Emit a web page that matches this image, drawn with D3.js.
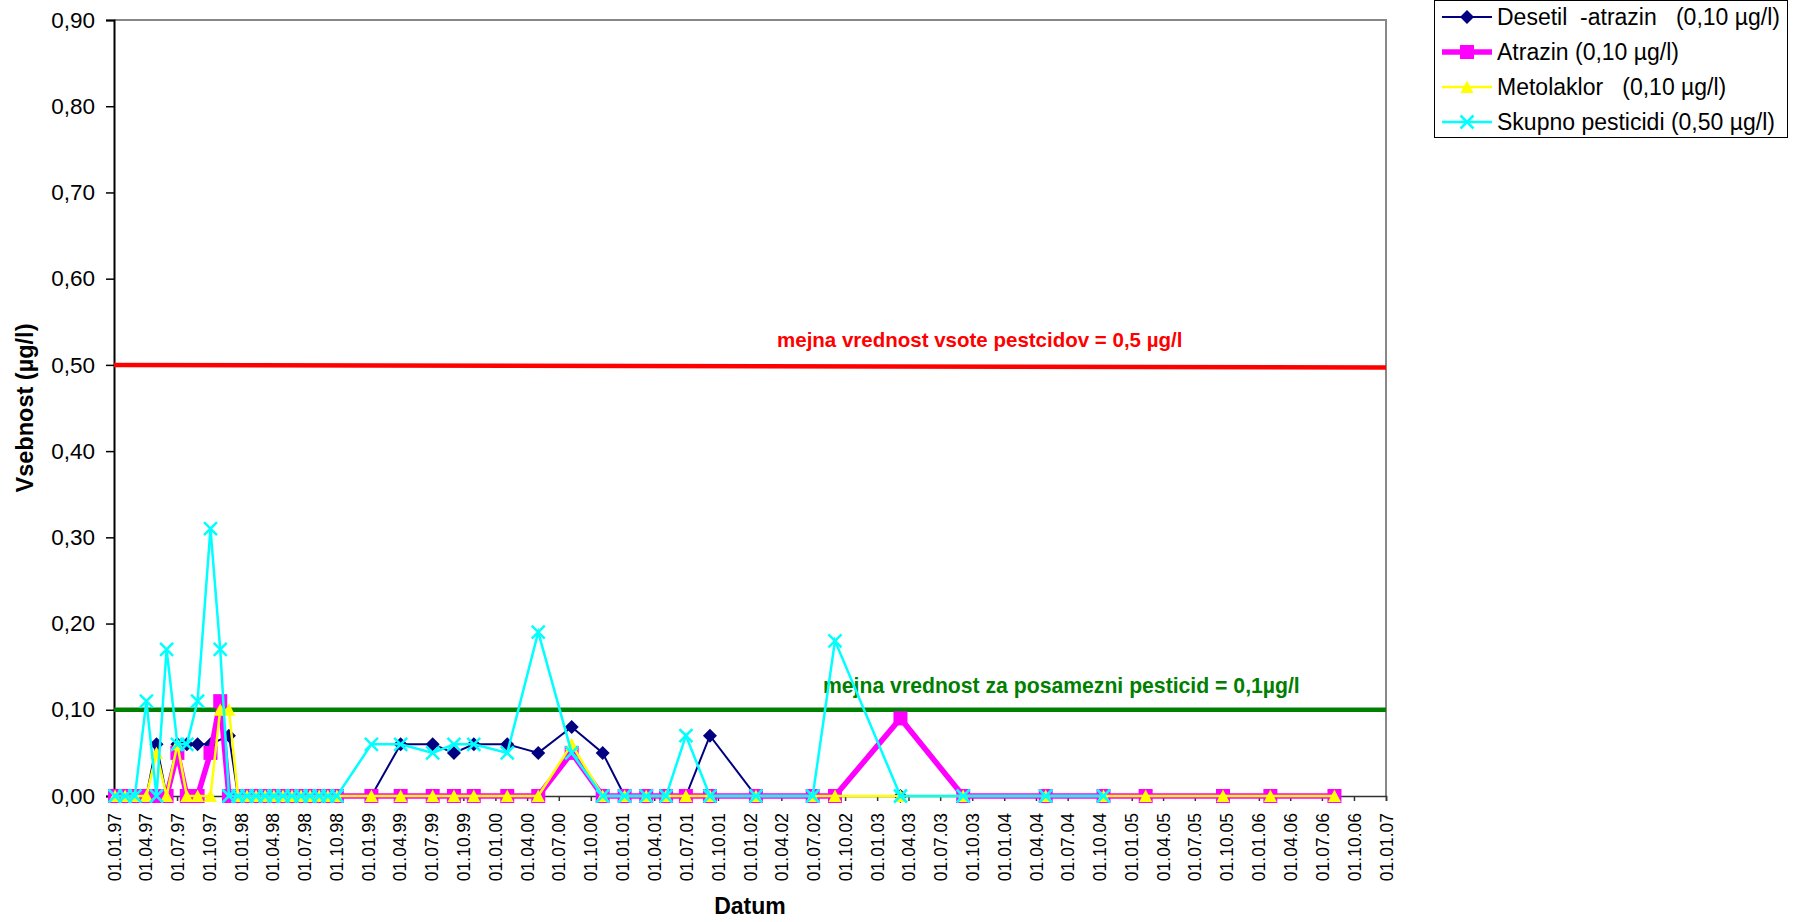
<!DOCTYPE html>
<html><head><meta charset="utf-8">
<script src="https://cdn.jsdelivr.net/npm/d3@7"></script>
<style>
body{margin:0;background:#fff;}
svg text{font-family:"Liberation Sans", Arial, sans-serif;}
</style></head><body>
<svg id="chart" width="1798" height="922"></svg>
<script>
// ---------- DATA ----------
const dates = [
 "1997-01-04","1997-02-02","1997-03-02","1997-04-04","1997-05-03","1997-06-01",
 "1997-07-02","1997-07-29","1997-08-29","1997-10-05","1997-11-02","1997-11-27",
 "1997-12-23","1998-01-18","1998-02-13","1998-03-11","1998-04-05","1998-05-01",
 "1998-05-27","1998-06-22","1998-07-18","1998-08-13","1998-09-07","1998-10-03",
 "1999-01-10","1999-04-04","1999-07-05","1999-09-04","1999-10-31","2000-02-04",
 "2000-05-03","2000-08-07","2000-11-04","2001-01-06","2001-03-09","2001-05-05",
 "2001-07-01","2001-09-08","2002-01-18","2002-06-30","2002-09-02","2003-03-09",
 "2003-09-05","2004-04-29","2004-10-12","2005-02-10","2005-09-20","2006-02-03",
 "2006-08-06"
];
const desetil = [
 0,0,0,0,0.06,0, 0.06,0.06,0.06,0.06,null,0.07,
 0,0,0,0,0,0, 0,0,0,0,0,0,
 0,0.06,0.06,0.05,0.06,0.06, 0.05,0.08,0.05,0,0,0,
 0,0.07,0,0,0,0, 0,0,0,null,null,null, null
];
const atrazin = [
 0,0,0,0,0,0, 0.05,0,0,0.05,0.11,0,
 0,0,0,0,0,0, 0,0,0,0,0,0,
 0,0,0,0,0,0, 0,0.05,0,0,0,0,
 0,0,0,0,0,0.09, 0,0,0,0,0,0, 0
];
const metolaklor = [
 0,0,0,0,0.05,0, 0.06,0,0,0,0.10,0.10,
 0,0,0,0,0,0, 0,0,0,0,0,0,
 0,0,0,0,0,0, 0,0.06,0,0,0,0,
 0,0,0,0,0,0, 0,0,0,0,0,0, 0
];
const skupno = [
 0,0,0,0.11,0,0.17, 0.06,0.06,0.11,0.31,0.17,0,
 0,0,0,0,0,0, 0,0,0,0,0,0,
 0.06,0.06,0.05,0.06,0.06,0.05, 0.19,0.05,0,0,0,0,
 0.07,0,0,0,0.18,0, 0,0,0,null,null,null, null
];
const limitDates = ["1997-01-01","2007-01-01"];
const limitSum = [0.5, 0.497];
const limitSingle = [0.1, 0.1];
const yTicks = [0,0.1,0.2,0.3,0.4,0.5,0.6,0.7,0.8,0.9];
const seriesNames = [
 "Desetil  -atrazin   (0,10 µg/l)",
 "Atrazin (0,10 µg/l)",
 "Metolaklor   (0,10 µg/l)",
 "Skupno pesticidi (0,50 µg/l)"
];
const seriesColors = ["#000080","#FF00FF","#FFFF00","#00FFFF"];
const seriesWidths = [2,5.5,2.5,2.5];
const seriesMarkers = ["diamond","square","triangle","x"];
const labelSum = "mejna vrednost vsote pestcidov = 0,5 µg/l";
const labelSingle = "mejna vrednost za posamezni pesticid = 0,1µg/l";
const xTitle = "Datum";
const yTitle = "Vsebnost (µg/l)";

// ---------- CHART ----------
const FONT = '"Liberation Sans", Arial, sans-serif';
const svg = d3.select("#chart");
const parse = d3.timeParse("%Y-%m-%d");
const L = 114, R = 1386, T = 20, B = 796;
const x = d3.scaleTime().domain([new Date(1997,0,1), new Date(2007,0,1)]).range([L,R]);
const y = d3.scaleLinear().domain([0,0.9]).range([B,T]);

// plot border (top/right)
svg.append("path").attr("d", `M${L},${T}H${R}V${B}`).attr("fill","none")
  .attr("stroke","#888").attr("stroke-width",2);

// y axis
const yAxis = svg.append("g").attr("transform",`translate(${L},0)`)
  .call(d3.axisLeft(y).tickValues(yTicks).tickSize(8).tickPadding(11)
    .tickFormat(d => d3.format(".2f")(d).replace(".", ",")));
yAxis.attr("font-family",FONT).attr("font-size",22.5);
yAxis.selectAll("text").attr("fill","#000");
yAxis.select(".domain").attr("stroke","#000").attr("stroke-width",2);
yAxis.selectAll(".tick line").attr("stroke","#000").attr("stroke-width",1.5);

// x axis
const xAxis = svg.append("g").attr("transform",`translate(0,${B})`)
  .call(d3.axisBottom(x).ticks(d3.timeMonth.every(3)).tickSize(5)
    .tickFormat(d3.timeFormat("%d.%m.%y")));
xAxis.attr("font-family",FONT).attr("font-size",17.5);
xAxis.select(".domain").attr("stroke","#333").attr("stroke-width",1.5);
xAxis.selectAll(".tick line").attr("stroke","#333").attr("stroke-width",1.5);
xAxis.selectAll("text").attr("fill","#000")
  .attr("transform","rotate(-90)").attr("text-anchor","end")
  .attr("x",-17).attr("y",0).attr("dy","0.35em");

// limit lines
const limLine = d3.line().x(d => x(d.d)).y(d => y(d.v));
const limSumData = limitDates.map((d,i)=>({d:parse(d), v:limitSum[i]}));
const limSingleData = limitDates.map((d,i)=>({d:parse(d), v:limitSingle[i]}));
svg.append("path").datum(limSumData).attr("d",limLine).attr("fill","none")
  .attr("stroke","#FF0000").attr("stroke-width",4.5);
svg.append("path").datum(limSingleData).attr("d",limLine).attr("fill","none")
  .attr("stroke","#008000").attr("stroke-width",4.5);

svg.append("text").attr("x",777).attr("y",347).attr("fill","#FF0000")
  .attr("font-weight","bold").attr("font-size",20.5).style("white-space","pre").text(labelSum);
svg.append("text").attr("x",823).attr("y",693).attr("fill","#008000")
  .attr("font-weight","bold").attr("font-size",21.2).style("white-space","pre").text(labelSingle);

// markers
function markerPath(type){
  switch(type){
    case "diamond": return "M0,-7L7,0L0,7L-7,0Z";
    case "square": return "M-7,-7H7V7H-7Z";
    case "triangle": return "M0,-6.5L6.5,6L-6.5,6Z";
    case "x": return "M-6.5,-6.5L6.5,6.5M6.5,-6.5L-6.5,6.5";
  }
}
function drawMarker(g, type, color){
  const p = g.append("path").attr("d", markerPath(type));
  if(type === "x") p.attr("fill","none").attr("stroke",color).attr("stroke-width",2.5);
  else p.attr("fill",color);
}

const allSeries = [desetil, atrazin, metolaklor, skupno];
const line = d3.line().x(d => x(d.d)).y(d => y(d.v));
allSeries.forEach((vals, si) => {
  const pts = dates.map((d,i)=>({d:parse(d), v:vals[i]})).filter(p => p.v !== null);
  const g = svg.append("g");
  g.append("path").datum(pts).attr("d",line).attr("fill","none")
    .attr("stroke",seriesColors[si]).attr("stroke-width",seriesWidths[si])
    .attr("stroke-linejoin","miter");
  pts.forEach(p => {
    const mg = g.append("g").attr("transform",`translate(${x(p.d)},${y(p.v)})`);
    drawMarker(mg, seriesMarkers[si], seriesColors[si]);
  });
});

// axis titles
svg.append("text").attr("transform",`translate(25,${(T+B)/2}) rotate(-90)`)
  .attr("text-anchor","middle").attr("dy","0.35em").attr("font-weight","bold")
  .attr("font-size",23.5).text(yTitle);
svg.append("text").attr("x",(L+R)/2).attr("y",914).attr("text-anchor","middle")
  .attr("font-weight","bold").attr("font-size",23).text(xTitle);

// legend
const lg = svg.append("g");
lg.append("rect").attr("x",1434.5).attr("y",0.5).attr("width",353).attr("height",137)
  .attr("fill","#fff").attr("stroke","#000").attr("stroke-width",1);
seriesNames.forEach((name, i) => {
  const cy = 17 + i*35;
  lg.append("line").attr("x1",1442).attr("x2",1492).attr("y1",cy).attr("y2",cy)
    .attr("stroke",seriesColors[i]).attr("stroke-width",seriesWidths[i]);
  const mg = lg.append("g").attr("transform",`translate(1467,${cy})`);
  drawMarker(mg, seriesMarkers[i], seriesColors[i]);
  lg.append("text").attr("x",1497).attr("y",cy).attr("dy","0.35em")
    .attr("font-size",23).style("white-space","pre").text(name);
});
</script>
</body></html>
